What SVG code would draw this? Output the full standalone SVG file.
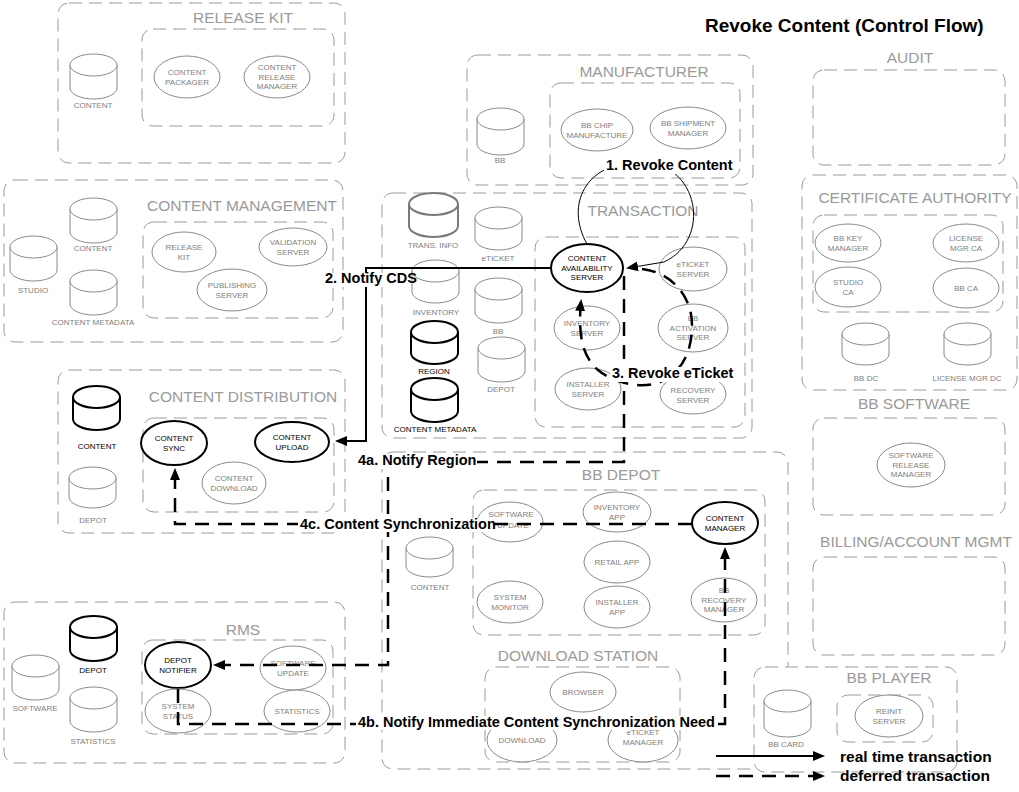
<svg xmlns="http://www.w3.org/2000/svg" width="1019" height="792" viewBox="0 0 1019 792">
<defs>
<style>
.box{fill:none;stroke:#9a9a9a;stroke-width:1;stroke-dasharray:13 7}
.wbox{fill:#fff;stroke:#9a9a9a;stroke-width:1;stroke-dasharray:13 7}
.ti{font-family:"Liberation Sans",Arial,sans-serif;font-size:15.5px;fill:#9a9a9a;text-anchor:middle}
.g{fill:#fff;stroke:#8a8a8a;stroke-width:1}
.gd{fill:#fff;stroke:#7a7a7a;stroke-width:2}
.b{fill:#fff;stroke:#000;stroke-width:2}
.t{font-family:"Liberation Sans",Arial,sans-serif;font-size:8px;fill:#808080;text-anchor:middle}
.k{fill:#000}
.rt{fill:none;stroke:#000;stroke-width:2}
.thin{fill:none;stroke:#000;stroke-width:1}
.df{fill:none;stroke:#000;stroke-width:2.5;stroke-dasharray:14 9}
.lb{font-family:"Liberation Sans",Arial,sans-serif;font-size:14.5px;font-weight:bold;fill:#000}
.lg{font-family:"Liberation Sans",Arial,sans-serif;font-size:15.5px;font-weight:bold;fill:#000}
.bg{fill:#fff}
</style>
<marker id="ah" markerUnits="userSpaceOnUse" markerWidth="13" markerHeight="10" refX="10" refY="5" orient="auto"><path d="M0,0 L12,5 L0,10 Z" fill="#000"/></marker>
</defs>
<rect width="1019" height="792" fill="#fff"/>

<text x="705" y="32" font-family="Liberation Sans, Arial, sans-serif" font-size="19" font-weight="bold" fill="#000">Revoke Content (Control Flow)</text>

<!-- RELEASE KIT -->
<g id="release-kit">
<rect class="box" x="58" y="3" width="287" height="160" rx="11"/>
<text class="ti" x="243" y="23">RELEASE KIT</text>
<rect class="box" x="142" y="29" width="192" height="97" rx="11"/>
</g>
<g id="rk-content"><path class="g" d="M70,65 V88 A23.5,11 0 0 0 117,88 V65"/><ellipse class="g" cx="93.5" cy="65" rx="23.5" ry="11"/><text class="t" x="93" y="108">CONTENT</text></g>
<g id="rk-packager"><ellipse class="g" cx="187" cy="77" rx="33" ry="21"/><text class="t" x="187" y="75">CONTENT</text><text class="t" x="187" y="85">PACKAGER</text></g>
<g id="rk-release-manager"><ellipse class="g" cx="277" cy="77" rx="33" ry="21"/><text class="t" x="277" y="70">CONTENT</text><text class="t" x="277" y="80">RELEASE</text><text class="t" x="277" y="89">MANAGER</text></g>

<!-- CONTENT MANAGEMENT -->
<g id="content-management">
<rect class="box" x="4" y="180" width="339" height="162" rx="11"/>
<text class="ti" x="242" y="211">CONTENT MANAGEMENT</text>
<rect class="box" x="143" y="222" width="190" height="96" rx="11"/>
</g>
<g id="cm-content"><path class="g" d="M70,209 V232 A23.5,11 0 0 0 117,232 V209"/><ellipse class="g" cx="93.5" cy="209" rx="23.5" ry="11"/><text class="t" x="93" y="251">CONTENT</text></g>
<g id="cm-studio"><path class="g" d="M10,247 V270 A23.5,11 0 0 0 57,270 V247"/><ellipse class="g" cx="33.5" cy="247" rx="23.5" ry="11"/><text class="t" x="33" y="293">STUDIO</text></g>
<g id="cm-metadata"><path class="g" d="M70,281 V304 A23.5,11 0 0 0 117,304 V281"/><ellipse class="g" cx="93.5" cy="281" rx="23.5" ry="11"/><text class="t" x="93" y="325">CONTENT METADATA</text></g>
<g id="cm-release-kit"><ellipse class="g" cx="184" cy="252" rx="32" ry="20"/><text class="t" x="184" y="250">RELEASE</text><text class="t" x="184" y="260">KIT</text></g>
<g id="cm-validation"><ellipse class="g" cx="293" cy="247" rx="34" ry="19"/><text class="t" x="293" y="245">VALIDATION</text><text class="t" x="293" y="255">SERVER</text></g>
<g id="cm-publishing"><ellipse class="g" cx="232" cy="290" rx="35" ry="21"/><text class="t" x="232" y="288">PUBLISHING</text><text class="t" x="232" y="298">SERVER</text></g>

<!-- CONTENT DISTRIBUTION -->
<g id="content-distribution">
<rect class="box" x="58" y="370" width="287" height="163" rx="11"/>
<text class="ti" x="243" y="402">CONTENT DISTRIBUTION</text>
<rect class="box" x="143" y="418" width="191" height="94" rx="11"/>
</g>
<g id="cd-content"><path class="b" d="M73,397 V419 A23.5,11 0 0 0 120,419 V397"/><ellipse class="b" cx="96.5" cy="397" rx="23.5" ry="11"/><text class="t k" x="97" y="449">CONTENT</text></g>
<g id="cd-depot"><path class="g" d="M69,478 V497 A23.5,11 0 0 0 116,497 V478"/><ellipse class="g" cx="92.5" cy="478" rx="23.5" ry="11"/><text class="t" x="93" y="523">DEPOT</text></g>
<g id="cd-sync"><ellipse class="b" cx="174" cy="443" rx="33" ry="22"/><text class="t k" x="174" y="441">CONTENT</text><text class="t k" x="174" y="451">SYNC</text></g>
<g id="cd-upload"><ellipse class="b" cx="292" cy="442" rx="37" ry="20"/><text class="t k" x="292" y="440">CONTENT</text><text class="t k" x="292" y="450">UPLOAD</text></g>
<g id="cd-download"><ellipse class="g" cx="234" cy="483" rx="32" ry="21"/><text class="t" x="234" y="481">CONTENT</text><text class="t" x="234" y="491">DOWNLOAD</text></g>

<!-- RMS -->
<g id="rms">
<rect class="box" x="4" y="602" width="341" height="161" rx="11"/>
<text class="ti" x="243" y="635">RMS</text>
<rect class="box" x="142" y="640" width="191" height="94" rx="11"/>
</g>
<g id="rms-software"><path class="g" d="M12,666 V689 A23.5,11 0 0 0 59,689 V666"/><ellipse class="g" cx="35.5" cy="666" rx="23.5" ry="11"/><text class="t" x="35" y="711">SOFTWARE</text></g>
<g id="rms-depot"><path class="b" d="M70,627 V650 A23.5,11 0 0 0 117,650 V627"/><ellipse class="b" cx="93.5" cy="627" rx="23.5" ry="11"/><text class="t k" x="93" y="673">DEPOT</text></g>
<g id="rms-statistics-db"><path class="g" d="M70,698 V721 A23.5,11 0 0 0 117,721 V698"/><ellipse class="g" cx="93.5" cy="698" rx="23.5" ry="11"/><text class="t" x="93" y="744">STATISTICS</text></g>
<g id="rms-depot-notifier"><ellipse class="b" cx="178" cy="665" rx="33" ry="23"/><text class="t k" x="178" y="663">DEPOT</text><text class="t k" x="178" y="673">NOTIFIER</text></g>
<g id="rms-software-update"><ellipse class="g" cx="293" cy="668" rx="33" ry="22"/><text class="t" x="293" y="666">SOFTWARE</text><text class="t" x="293" y="676">UPDATE</text></g>
<g id="rms-system-status"><ellipse class="g" cx="178" cy="711" rx="33" ry="22"/><text class="t" x="178" y="709">SYSTEM</text><text class="t" x="178" y="719">STATUS</text></g>
<g id="rms-statistics"><ellipse class="g" cx="297" cy="711" rx="33" ry="21"/><text class="t" x="297" y="714">STATISTICS</text></g>

<!-- MANUFACTURER -->
<g id="manufacturer">
<rect class="box" x="467" y="55" width="286" height="130" rx="11"/>
<text class="ti" x="644" y="77">MANUFACTURER</text>
<rect class="box" x="550" y="83" width="190" height="95" rx="11"/>
</g>
<g id="mf-bb"><path class="g" d="M477,119 V144 A23.5,11 0 0 0 524,144 V119"/><ellipse class="g" cx="500.5" cy="119" rx="23.5" ry="11"/><text class="t" x="500" y="163">BB</text></g>
<g id="mf-chip"><ellipse class="g" cx="597" cy="130" rx="36" ry="21"/><text class="t" x="597" y="128">BB CHIP</text><text class="t" x="597" y="138">MANUFACTURE</text></g>
<g id="mf-shipment"><ellipse class="g" cx="688" cy="128" rx="38" ry="21"/><text class="t" x="688" y="126">BB SHIPMENT</text><text class="t" x="688" y="136">MANAGER</text></g>

<!-- TRANSACTION -->
<g id="transaction">
<rect class="box" x="382" y="193" width="370" height="245" rx="11"/>
<text class="ti" x="643" y="216">TRANSACTION</text>
<rect class="box" x="535" y="237" width="210" height="190" rx="11"/>
</g>
<g id="tr-trans-info"><path class="gd" d="M409,204 V226 A24.5,11 0 0 0 458,226 V204"/><ellipse class="gd" cx="433.5" cy="204" rx="24.5" ry="11"/><text class="t" x="433" y="248">TRANS. INFO</text></g>
<g id="tr-eticket"><path class="g" d="M475,218 V239 A23.5,11 0 0 0 522,239 V218"/><ellipse class="g" cx="498.5" cy="218" rx="23.5" ry="11"/><text class="t" x="498" y="261">eTICKET</text></g>
<g id="tr-inventory"><path class="g" d="M412,271 V292 A23.5,11 0 0 0 459,292 V271"/><ellipse class="g" cx="435.5" cy="271" rx="23.5" ry="11"/><text class="t" x="436" y="315">INVENTORY</text></g>
<g id="tr-bb"><path class="g" d="M475,289 V312 A23.5,11 0 0 0 522,312 V289"/><ellipse class="g" cx="498.5" cy="289" rx="23.5" ry="11"/><text class="t" x="498" y="334">BB</text></g>
<g id="tr-region"><path class="b" d="M411,332 V353 A23.5,11 0 0 0 458,353 V332"/><ellipse class="b" cx="434.5" cy="332" rx="23.5" ry="11"/><text class="t k" x="434" y="374">REGION</text></g>
<g id="tr-depot"><path class="g" d="M478,348 V371 A23.5,11 0 0 0 525,371 V348"/><ellipse class="g" cx="501.5" cy="348" rx="23.5" ry="11"/><text class="t" x="501" y="392">DEPOT</text></g>
<g id="tr-content-metadata"><path class="b" d="M411,389 V411 A23.5,11 0 0 0 458,411 V389"/><ellipse class="b" cx="434.5" cy="389" rx="23.5" ry="11"/><text class="t k" x="435" y="432">CONTENT METADATA</text></g>
<g id="tr-cas"><ellipse class="b" cx="587" cy="268" rx="36" ry="24"/><text class="t k" x="587" y="261">CONTENT</text><text class="t k" x="587" y="271">AVAILABILITY</text><text class="t k" x="587" y="280">SERVER</text></g>
<g id="tr-eticket-server"><ellipse class="g" cx="693" cy="269" rx="34" ry="22"/><text class="t" x="693" y="267">eTICKET</text><text class="t" x="693" y="277">SERVER</text></g>
<g id="tr-inventory-server"><ellipse class="g" cx="587" cy="328" rx="33" ry="22"/><text class="t" x="587" y="326">INVENTORY</text><text class="t" x="587" y="336">SERVER</text></g>
<g id="tr-activation"><ellipse class="g" cx="693" cy="328" rx="35" ry="24"/><text class="t" x="693" y="321">BB</text><text class="t" x="693" y="331">ACTIVATION</text><text class="t" x="693" y="340">SERVER</text></g>
<g id="tr-installer"><ellipse class="g" cx="588" cy="389" rx="33" ry="21"/><text class="t" x="588" y="387">INSTALLER</text><text class="t" x="588" y="397">SERVER</text></g>
<g id="tr-recovery"><ellipse class="g" cx="693" cy="394" rx="33" ry="20"/><text class="t" x="693" y="393">RECOVERY</text><text class="t" x="693" y="403">SERVER</text></g>

<!-- BB DEPOT -->
<g id="bb-depot">
<rect class="box" x="382" y="452" width="406" height="317" rx="11"/>
<text class="ti" x="621" y="480">BB DEPOT</text>
<rect class="box" x="473" y="490" width="292" height="145" rx="11"/>
</g>
<g id="bd-content"><path class="g" d="M406,548 V566 A23.5,11 0 0 0 453,566 V548"/><ellipse class="g" cx="429.5" cy="548" rx="23.5" ry="11"/><text class="t" x="430" y="590">CONTENT</text></g>
<g id="bd-software-update"><ellipse class="g" cx="510" cy="522" rx="33" ry="20"/><text class="t" x="511" y="517">SOFTWARE</text><text class="t" x="513" y="528">UPDATE</text></g>
<g id="bd-inventory-app"><ellipse class="g" cx="617" cy="512" rx="34" ry="20"/><text class="t" x="617" y="510">INVENTORY</text><text class="t" x="617" y="520">APP</text></g>
<g id="bd-content-manager"><ellipse class="b" cx="725" cy="523" rx="33" ry="21"/><text class="t k" x="725" y="521">CONTENT</text><text class="t k" x="725" y="531">MANAGER</text></g>
<g id="bd-retail-app"><ellipse class="g" cx="617" cy="562" rx="33" ry="21"/><text class="t" x="617" y="565">RETAIL APP</text></g>
<g id="bd-system-monitor"><ellipse class="g" cx="510" cy="602" rx="33" ry="21"/><text class="t" x="510" y="600">SYSTEM</text><text class="t" x="510" y="610">MONITOR</text></g>
<g id="bd-installer-app"><ellipse class="g" cx="617" cy="607" rx="33" ry="21"/><text class="t" x="617" y="605">INSTALLER</text><text class="t" x="617" y="615">APP</text></g>
<g id="bd-recovery-manager"><ellipse class="g" cx="724" cy="600" rx="33" ry="22"/><text class="t" x="724" y="593">BB</text><text class="t" x="724" y="603">RECOVERY</text><text class="t" x="724" y="612">MANAGER</text></g>

<!-- DOWNLOAD STATION -->
<g id="download-station">
<text class="ti" x="578" y="661">DOWNLOAD STATION</text>
<rect class="box" x="485" y="667" width="195" height="95" rx="11"/>
</g>
<g id="ds-browser"><ellipse class="g" cx="583" cy="692" rx="33" ry="20"/><text class="t" x="583" y="695">BROWSER</text></g>
<g id="ds-download"><ellipse class="g" cx="522" cy="740" rx="35" ry="22"/><text class="t" x="522" y="743">DOWNLOAD</text></g>
<g id="ds-eticket-manager"><ellipse class="g" cx="643" cy="740" rx="35" ry="22"/><text class="t" x="643" y="735">eTICKET</text><text class="t" x="643" y="745">MANAGER</text></g>

<!-- AUDIT -->
<g id="audit">
<text class="ti" x="910" y="63">AUDIT</text>
<rect class="box" x="813" y="70" width="192" height="95" rx="11"/>
</g>

<!-- CERTIFICATE AUTHORITY -->
<g id="certificate-authority">
<rect class="box" x="802" y="175" width="215" height="215" rx="11"/>
<text class="ti" x="915" y="203">CERTIFICATE AUTHORITY</text>
<rect class="box" x="813" y="215" width="190" height="97" rx="11"/>
</g>
<g id="ca-bb-key"><ellipse class="g" cx="848" cy="243" rx="33" ry="19"/><text class="t" x="848" y="241">BB KEY</text><text class="t" x="848" y="251">MANAGER</text></g>
<g id="ca-license-mgr"><ellipse class="g" cx="966" cy="243" rx="33" ry="19"/><text class="t" x="966" y="241">LICENSE</text><text class="t" x="966" y="251">MGR CA</text></g>
<g id="ca-studio"><ellipse class="g" cx="848" cy="287" rx="33" ry="20"/><text class="t" x="848" y="285">STUDIO</text><text class="t" x="848" y="295">CA</text></g>
<g id="ca-bb-ca"><ellipse class="g" cx="966" cy="288" rx="33" ry="20"/><text class="t" x="966" y="291">BB CA</text></g>
<g id="ca-bb-dc"><path class="g" d="M842,334 V354 A23.5,11 0 0 0 889,354 V334"/><ellipse class="g" cx="865.5" cy="334" rx="23.5" ry="11"/><text class="t" x="866" y="381">BB DC</text></g>
<g id="ca-license-dc"><path class="g" d="M944,334 V354 A23.5,11 0 0 0 991,354 V334"/><ellipse class="g" cx="967.5" cy="334" rx="23.5" ry="11"/><text class="t" x="967" y="381">LICENSE MGR DC</text></g>

<!-- BB SOFTWARE -->
<g id="bb-software">
<text class="ti" x="914" y="409">BB SOFTWARE</text>
<rect class="box" x="813" y="418" width="192" height="97" rx="11"/>
</g>
<g id="sw-release-manager"><ellipse class="g" cx="911" cy="465" rx="34" ry="22"/><text class="t" x="911" y="458">SOFTWARE</text><text class="t" x="911" y="468">RELEASE</text><text class="t" x="911" y="477">MANAGER</text></g>

<!-- BILLING -->
<g id="billing">
<text class="ti" x="916" y="547">BILLING/ACCOUNT MGMT</text>
<rect class="box" x="813" y="557" width="192" height="98" rx="11"/>
</g>

<!-- BB PLAYER -->
<g id="bb-player">
<rect class="wbox" x="754" y="667" width="203" height="105" rx="11"/>
<text class="ti" x="889" y="683">BB PLAYER</text>
<rect class="box" x="837" y="695" width="96" height="47" rx="11"/>
</g>
<g id="bp-bb-card"><path class="g" d="M764,701 V726 A23.5,11 0 0 0 811,726 V701"/><ellipse class="g" cx="787.5" cy="701" rx="23.5" ry="11"/><text class="t" x="786" y="747">BB CARD</text></g>
<g id="bp-reinit"><ellipse class="g" cx="889" cy="716" rx="34" ry="21"/><text class="t" x="889" y="714">REINIT</text><text class="t" x="889" y="724">SERVER</text></g>

<!-- CONNECTORS -->
<g id="connectors">
<path class="thin" d="M587,244 C565,205 585,162 640,162 C700,162 712,240 664,262 L628,268" marker-end="url(#ah)"/>
<path class="rt" d="M551,268 H366 V441 H337" marker-end="url(#ah)"/>
<path class="df" d="M642,269 C670,272 692,295 692,325 C692,352 682,372 660,382 C640,390 612,382 598,370 C582,356 578,335 581,301" marker-end="url(#ah)"/>
<path class="df" d="M624,276 V462 H388 V665 H215" marker-end="url(#ah)"/>
<path class="df" d="M178,689 V724 H725 V549" marker-end="url(#ah)"/>
<path class="df" d="M692,524 H175 V470" marker-end="url(#ah)"/>

<rect class="bg" x="604" y="159" width="131" height="15"/>
<text class="lb" x="606" y="170">1. Revoke Content</text>
<rect class="bg" x="323" y="273" width="83" height="14"/>
<text class="lb" x="325" y="283" font-size="12.5">2. Notify CDS</text>
<rect class="bg" x="610" y="367" width="126" height="15"/>
<text class="lb" x="612" y="378">3. Revoke eTicket</text>
<rect class="bg" x="356" y="454" width="121" height="15"/>
<text class="lb" x="358" y="465">4a. Notify Region</text>
<rect class="bg" x="356" y="716" width="361" height="14"/>
<text class="lb" x="358" y="727">4b. Notify Immediate Content Synchronization Need</text>
<rect class="bg" x="298" y="518" width="193" height="14"/>
<text class="lb" x="300" y="529" font-size="14">4c. Content Synchronization</text>
</g>

<!-- LEGEND -->
<g id="legend">
<path class="rt" d="M716,756 H823" marker-end="url(#ah)"/>
<text class="lg" x="840" y="762">real time transaction</text>
<path class="df" d="M716,776 H823" marker-end="url(#ah)"/>
<text class="lg" x="840" y="781">deferred transaction</text>
</g>
</svg>
